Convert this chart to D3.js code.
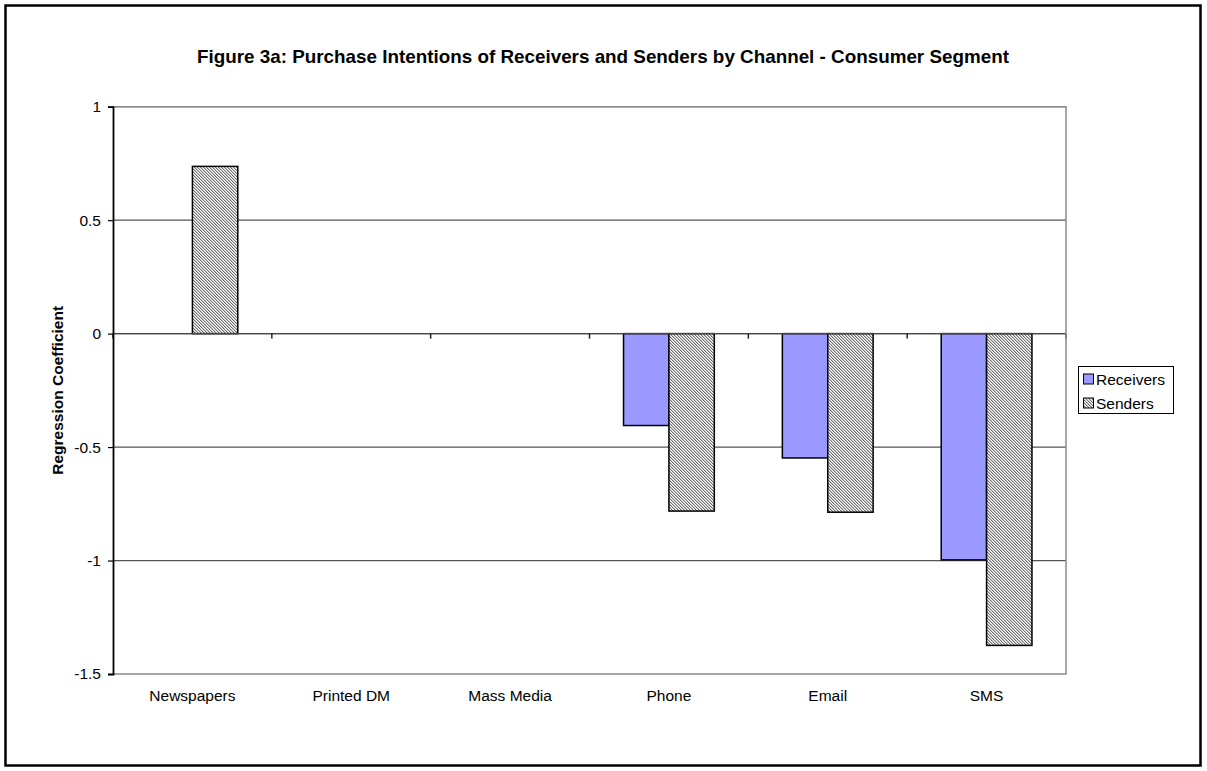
<!DOCTYPE html>
<html>
<head>
<meta charset="utf-8">
<script src="https://cdn.jsdelivr.net/npm/d3@7"></script>
<style>
  html, body { margin: 0; padding: 0; background: #fff; }
  svg { display: block; font-family: "Liberation Sans", Arial, sans-serif; }
</style>
</head>
<body>
<svg id="chart" width="1207" height="771"></svg>
<script>
const categories = ["Newspapers", "Printed DM", "Mass Media", "Phone", "Email", "SMS"];
const seriesNames = ["Receivers", "Senders"];
const receivers = [null, null, null, -0.405, -0.548, -0.997];
const senders = [0.737, null, null, -0.782, -0.787, -1.374];
const yTicks = [1, 0.5, 0, -0.5, -1, -1.5];
const yTickLabels = ["1", "0.5", "0", "-0.5", "-1", "-1.5"];
const titleText = "Figure 3a: Purchase Intentions of Receivers and Senders by Channel - Consumer Segment";
const yLabel = "Regression Coefficient";

const svg = d3.select("#chart");
const W = 1207, H = 771;
const plot = { left: 113, right: 1066, top: 106.7, bottom: 674 };

// fine hatch pattern
const defs = svg.append("defs");
const pat = defs.append("pattern")
  .attr("id", "hatch").attr("patternUnits", "userSpaceOnUse")
  .attr("width", 3).attr("height", 3);
pat.append("rect").attr("width", 3).attr("height", 3).attr("fill", "#ffffff");
[[0,0],[1,1],[2,2]].forEach(([px,py]) => {
  pat.append("rect").attr("x", px).attr("y", py).attr("width", 1).attr("height", 1).attr("fill", "#707070");
});
[[1,0],[2,1],[0,2]].forEach(([px,py]) => {
  pat.append("rect").attr("x", px).attr("y", py).attr("width", 1).attr("height", 1).attr("fill", "#c4c4c4");
});

// outer frame
svg.append("rect").attr("x", 5.5).attr("y", 5.5).attr("width", W - 12).attr("height", H - 11)
  .attr("fill", "#fff").attr("stroke", "#000").attr("stroke-width", 2.5);

const x = d3.scaleBand().domain(categories).range([plot.left, plot.right]).paddingInner(0).paddingOuter(0);
const xi = d3.scaleBand().domain(seriesNames).range([0, x.bandwidth()]).paddingInner(0).paddingOuter(0.75);
const y = d3.scaleLinear().domain([-1.5, 1]).range([plot.bottom, plot.top]);

// gridlines
svg.append("g").selectAll("line").data(yTicks.filter(d => d > -1.5)).join("line")
  .attr("x1", plot.left).attr("x2", plot.right)
  .attr("y1", d => y(d)).attr("y2", d => y(d))
  .attr("stroke", "#555").attr("stroke-width", 1.2);

// bars
const data = [];
categories.forEach((c, i) => {
  data.push({ c, s: "Receivers", v: receivers[i] });
  data.push({ c, s: "Senders", v: senders[i] });
});
svg.append("g").selectAll("rect").data(data.filter(d => d.v !== null)).join("rect")
  .attr("x", d => x(d.c) + xi(d.s))
  .attr("width", xi.bandwidth())
  .attr("y", d => Math.min(y(d.v), y(0)))
  .attr("height", d => Math.abs(y(d.v) - y(0)))
  .attr("fill", d => d.s === "Receivers" ? "#9999ff" : "url(#hatch)")
  .attr("stroke", "#000").attr("stroke-width", 1.5);

// category axis at 0 with ticks
const xAxisG = svg.append("g");
xAxisG.append("line").attr("x1", plot.left).attr("x2", plot.right)
  .attr("y1", y(0)).attr("y2", y(0)).attr("stroke", "#444").attr("stroke-width", 1.2);
const boundaries = categories.map(c => x(c)).concat([plot.right]);
xAxisG.selectAll("line.tk").data(boundaries).join("line").attr("class", "tk")
  .attr("x1", d => d).attr("x2", d => d).attr("y1", y(0)).attr("y2", y(0) + 5)
  .attr("stroke", "#222").attr("stroke-width", 1.5);

// category labels
svg.append("g").selectAll("text").data(categories).join("text")
  .attr("x", d => x(d) + x.bandwidth() / 2).attr("y", 701)
  .attr("text-anchor", "middle").attr("font-size", 15.5).attr("fill", "#000")
  .text(d => d);

// plot border (gray)
svg.append("path")
  .attr("d", `M${plot.left},${plot.top}H${plot.right}V${plot.bottom}H${plot.left}`)
  .attr("fill", "none").attr("stroke", "#8a8a8a").attr("stroke-width", 1.5);

// y axis
const yAxis = d3.axisLeft(y).tickValues(yTicks).tickSize(5).tickPadding(7)
  .tickFormat((d, i) => yTickLabels[i]);
const yg = svg.append("g").attr("transform", `translate(${plot.left},0)`).call(yAxis);
yg.select(".domain").attr("stroke", "#000").attr("stroke-width", 1.8);
yg.selectAll(".tick line").attr("stroke", "#000").attr("stroke-width", 1.2);
yg.selectAll(".tick text").attr("font-size", 15.5).attr("font-family", "Liberation Sans, Arial, sans-serif").attr("fill", "#000");

// y label
svg.append("text").attr("transform", `translate(63,${(plot.top + plot.bottom) / 2}) rotate(-90)`)
  .attr("text-anchor", "middle").attr("font-size", 15.5).attr("font-weight", "bold")
  .text(yLabel);

// title
const t = svg.append("text").attr("x", 603).attr("y", 63).attr("text-anchor", "middle")
  .attr("font-size", 17.5).attr("font-weight", "bold").text(titleText);
const len = t.node().getComputedTextLength();
t.attr("font-size", 17.5 * 812 / len);

// legend
const lg = svg.append("g");
lg.append("rect").attr("x", 1078.5).attr("y", 366.5).attr("width", 95).attr("height", 47)
  .attr("fill", "#fff").attr("stroke", "#000").attr("stroke-width", 1);
seriesNames.forEach((s, i) => {
  const cy = 379 + i * 24;
  lg.append("rect").attr("x", 1083.5).attr("y", cy - 5).attr("width", 10).attr("height", 10)
    .attr("fill", s === "Receivers" ? "#9999ff" : "url(#hatch)").attr("stroke", "#000").attr("stroke-width", 1);
  lg.append("text").attr("x", 1096).attr("y", cy + 5.5).attr("font-size", 15.5).text(s);
});
</script>
</body>
</html>
